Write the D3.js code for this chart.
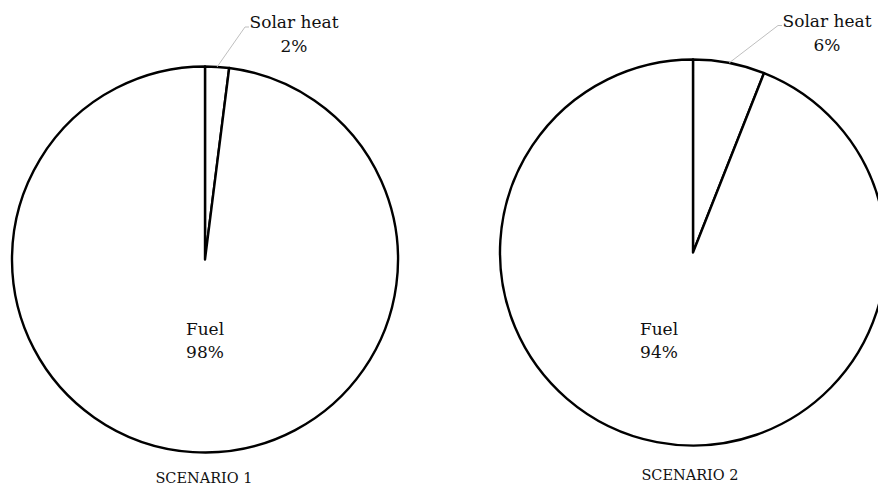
<!DOCTYPE html>
<html>
<head>
<meta charset="utf-8">
<script src="https://cdn.jsdelivr.net/npm/d3@7"></script>
<style>
  html, body { margin: 0; padding: 0; background: #fff; }
  svg text { font-family: "DejaVu Serif", "Liberation Serif", serif; fill: #111; }
</style>
</head>
<body>
<svg id="chart" width="878" height="488"></svg>
<script>
// Share of heat supply per scenario
const scenarios = ["SCENARIO 1", "SCENARIO 2"];
const sources = ["Solar heat", "Fuel"];
const solarShare = [2, 6];
const fuelShare = [98, 94];

const svg = d3.select("#chart");

// Per-pie layout
const layout = [
  { cx: 205, cy: 259.5, solarX: 294, solarY: 28, elbowX: 245, fuelDx: 0, fuelY: 335, capX: 204, capY: 483 },
  { cx: 693, cy: 252.5, solarX: 827, solarY: 26.5, elbowX: 778, fuelDx: -34, fuelY: 335, capX: 690, capY: 480 }
];
const radius = 193;

const pie = d3.pie().sort(null).value(d => d.value);
const arc = d3.arc().innerRadius(0).outerRadius(radius);

scenarios.forEach((name, i) => {
  const L = layout[i];
  const data = [
    { source: sources[0], value: solarShare[i] },
    { source: sources[1], value: fuelShare[i] }
  ];
  const arcs = pie(data);
  const g = svg.append("g").attr("transform", `translate(${L.cx},${L.cy})`);

  g.selectAll("path.slice")
    .data(arcs)
    .join("path")
    .attr("class", "slice")
    .attr("d", arc)
    .attr("fill", "#fff")
    .attr("stroke", "#000")
    .attr("stroke-width", 2.4)
    .attr("stroke-linejoin", "round");

  // Solar label sits outside the pie with a leader line
  const solar = arcs[0];
  const mid = (solar.startAngle + solar.endAngle) / 2;
  const edge = [Math.sin(mid) * radius, -Math.cos(mid) * radius];
  const elbow = [L.elbowX - L.cx, L.solarY - 1 - L.cy];
  const lineEnd = [elbow[0] + 4, elbow[1]];
  g.append("polyline")
    .attr("points", [edge, elbow, lineEnd].map(p => p.join(",")).join(" "))
    .attr("fill", "none")
    .attr("stroke", "#bfbfbf")
    .attr("stroke-width", 1);

  const solarLabel = svg.append("text")
    .attr("text-anchor", "middle")
    .attr("font-size", 17);
  solarLabel.append("tspan").attr("x", L.solarX).attr("y", L.solarY).text(sources[0]);
  solarLabel.append("tspan").attr("x", L.solarX).attr("y", L.solarY + 24).text(solarShare[i] + "%");

  // Fuel label inside the big slice
  const fuelLabel = svg.append("text")
    .attr("text-anchor", "middle")
    .attr("font-size", 17);
  fuelLabel.append("tspan").attr("x", L.cx + L.fuelDx).attr("y", L.fuelY).text(sources[1]);
  fuelLabel.append("tspan").attr("x", L.cx + L.fuelDx).attr("y", L.fuelY + 23).text(fuelShare[i] + "%");

  // Scenario caption below each pie
  svg.append("text")
    .attr("x", L.capX)
    .attr("y", L.capY)
    .attr("text-anchor", "middle")
    .attr("font-size", 14.5)
    .text(name);
});
</script>
</body>
</html>
